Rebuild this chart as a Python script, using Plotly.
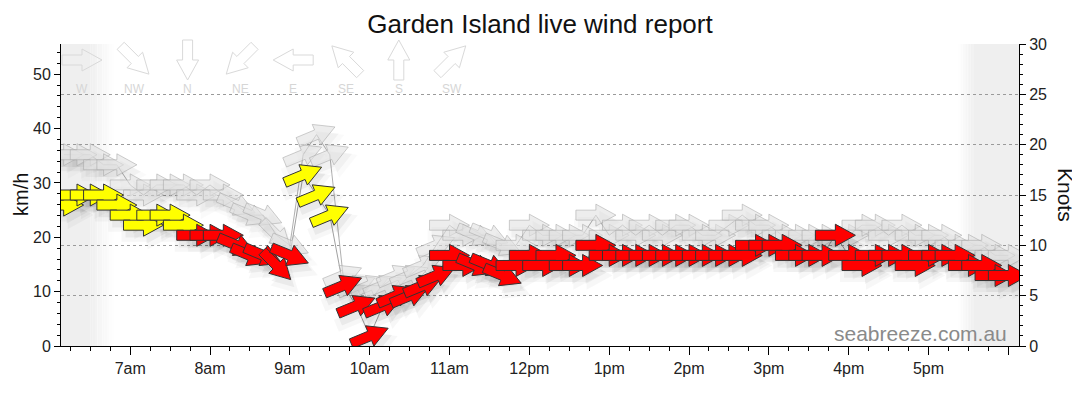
import math
import plotly.graph_objects as go

TITLE = "Garden Island live wind report"
DAY = "2024-01-01"

times = [
    "06:10", "06:20", "06:30", "06:40", "06:50",
    "07:00", "07:10", "07:20", "07:30", "07:40", "07:50",
    "08:00", "08:10", "08:20", "08:30", "08:40", "08:50",
    "09:00", "09:10", "09:20", "09:30", "09:40", "09:50",
    "10:00", "10:10", "10:20", "10:30", "10:40", "10:50",
    "11:00", "11:10", "11:20", "11:30", "11:40", "11:50",
    "12:00", "12:10", "12:20", "12:30", "12:40", "12:50",
    "13:00", "13:10", "13:20", "13:30", "13:40", "13:50",
    "14:00", "14:10", "14:20", "14:30", "14:40", "14:50",
    "15:00", "15:10", "15:20", "15:30", "15:40", "15:50",
    "16:00", "16:10", "16:20", "16:30", "16:40", "16:50",
    "17:00", "17:10", "17:20", "17:30", "17:40", "17:50",
    "18:00",
]

# wind speed (knots)
speed_kt = [
    14, 15, 15, 15, 14,
    13, 12, 13, 13, 12, 11,
    11, 11, 10, 9, 9, 8,
    9, 17, 15, 13, 6, 4,
    1, 4, 5, 5, 6, 7,
    9, 8, 8, 8, 7, 8,
    9, 8, 9, 8, 8, 10,
    9, 9, 9, 9, 9, 9,
    9, 9, 9, 9, 9, 10,
    10, 10, 9, 9, 9, 11,
    9, 8, 9, 9, 9, 8,
    9, 9, 9, 8, 8, 7,
    7,
]

# wind gust (knots)
gust_kt = [
    19, 19, 19, 18, 18,
    16, 15, 16, 16, 16, 15,
    16, 15, 14, 13, 13, 11,
    10, 19, 21, 19, 7, 6,
    6, 6, 7, 7, 8, 10,
    12, 11, 11, 11, 10, 10,
    12, 11, 11, 11, 11, 13,
    11, 12, 11, 12, 11, 12,
    12, 11, 11, 12, 13, 12,
    12, 11, 11, 11, 11, 11,
    11, 12, 12, 11, 12, 11,
    11, 11, 10, 10, 10, 9,
    9,
]

# wind direction (compass, "from")
direction = [
    "W", "W", "W", "W", "W",
    "W", "W", "W", "W", "W", "W",
    "W", "W", "WNW", "WNW", "WNW", "NW",
    "WNW", "WSW", "WSW", "WSW", "WSW", "WSW",
    "WSW", "WSW", "WSW", "WSW", "WSW", "WSW",
    "W", "W", "WNW", "WNW", "WNW", "W",
    "W", "W", "W", "W", "W", "W",
    "W", "W", "W", "W", "W", "W",
    "W", "W", "W", "W", "W", "W",
    "W", "W", "W", "W", "W", "W",
    "W", "W", "W", "W", "W", "W",
    "W", "W", "W", "W", "W", "W",
    "W",
]

hour_ticks = ["07:00", "08:00", "09:00", "10:00", "11:00", "12:00",
              "13:00", "14:00", "15:00", "16:00", "17:00", "18:00"]
hour_labels = ["7am", "8am", "9am", "10am", "11am", "12pm",
               "1pm", "2pm", "3pm", "4pm", "5pm", ""]
compass_legend = ["W", "NW", "N", "NE", "E", "SE", "S", "SW"]
axis_start, axis_end = "06:08", "18:08"
sunrise_solid, sunrise_fade = "06:30", "06:48"
sunset_fade, sunset_solid = "17:22", "17:34"

KMH_PER_KT = 1.852
COMPASS_DEG = {"N": 0, "NNE": 22.5, "NE": 45, "ENE": 67.5, "E": 90, "ESE": 112.5,
               "SE": 135, "SSE": 157.5, "S": 180, "SSW": 202.5, "SW": 225,
               "WSW": 247.5, "W": 270, "WNW": 292.5, "NW": 315, "NNW": 337.5}

ARROW = [(-20, -5), (0, -5), (0, -11), (20, 0), (0, 11), (0, 5), (-20, 5)]

# page offset of the plot div (default body margin of the page)
PAGE_OFF = 8
# plot area as seen on screen
PLOT_L, PLOT_R, PLOT_T, PLOT_B = 61, 1019, 44, 346
PLOT_W, PLOT_H = PLOT_R - PLOT_L, PLOT_B - PLOT_T
FIG_W, FIG_H = 1080, 414


def screen_angle(d):
    to_bearing = (COMPASS_DEG[d] + 180) % 360
    return 90 - to_bearing


def arrow_path(theta, scale=1.0, dx=0.0, dy=0.0):
    t = math.radians(theta)
    c, s = math.cos(t), math.sin(t)
    pts = [(x * scale * c - y * scale * s + dx, x * scale * s + y * scale * c + dy) for x, y in ARROW]
    return "M" + "L".join(f"{x:.2f},{y:.2f}" for x, y in pts) + "Z"


def ts(hm):
    return f"{DAY} {hm}"


def px_x(px):
    return (px - PLOT_L) / PLOT_W


def px_y(py):
    return 1 - (py - PLOT_T) / PLOT_H


xs = [ts(t) for t in times]
shapes = []


def hm_to_min(hm):
    h, m = hm.split(":")
    return int(h) * 60 + int(m)


def min_to_ts(mn):
    sec = int(round(mn * 60))
    return f"{DAY} {sec // 3600:02d}:{(sec // 60) % 60:02d}:{sec % 60:02d}"


# night shading with a stepped gradient
SHADE = 239
shapes.append(dict(type="rect", xref="x", yref="paper", x0=ts(axis_start), x1=ts(sunrise_solid),
                   y0=0, y1=1, fillcolor=f"rgb({SHADE},{SHADE},{SHADE})", line=dict(width=0), layer="between"))
shapes.append(dict(type="rect", xref="x", yref="paper", x0=ts(sunset_solid), x1=ts(axis_end),
                   y0=0, y1=1, fillcolor=f"rgb({SHADE},{SHADE},{SHADE})", line=dict(width=0), layer="between"))
NSTEP = 10
a0, a1 = hm_to_min(sunrise_solid), hm_to_min(sunrise_fade)
b0, b1 = hm_to_min(sunset_fade), hm_to_min(sunset_solid)
for i in range(NSTEP):
    f = (i + 0.5) / NSTEP
    g = int(round(SHADE + (255 - SHADE) * f))
    shapes.append(dict(type="rect", xref="x", yref="paper",
                       x0=min_to_ts(a0 + (a1 - a0) * i / NSTEP), x1=min_to_ts(a0 + (a1 - a0) * (i + 1) / NSTEP),
                       y0=0, y1=1, fillcolor=f"rgb({g},{g},{g})", line=dict(width=0), layer="between"))
    g2 = int(round(255 - (255 - SHADE) * f))
    shapes.append(dict(type="rect", xref="x", yref="paper",
                       x0=min_to_ts(b0 + (b1 - b0) * i / NSTEP), x1=min_to_ts(b0 + (b1 - b0) * (i + 1) / NSTEP),
                       y0=0, y1=1, fillcolor=f"rgb({g2},{g2},{g2})", line=dict(width=0), layer="between"))


def add_arrows(values, fill_fn, line_color, shadow_alpha):
    for x, v, d in zip(xs, values, direction):
        th = screen_angle(d)
        for sc, dx, dy, al in ((1.3, 4, -10, shadow_alpha * 0.6), (1.05, 3, -7, shadow_alpha)):
            shapes.append(dict(type="path", xref="x", yref="y2", xsizemode="pixel", ysizemode="pixel",
                               xanchor=x, yanchor=v, path=arrow_path(th, sc, dx, dy),
                               fillcolor=f"rgba(0,0,0,{al})", line=dict(width=0), layer="above"))
    for x, v, d in zip(xs, values, direction):
        th = screen_angle(d)
        shapes.append(dict(type="path", xref="x", yref="y2", xsizemode="pixel", ysizemode="pixel",
                           xanchor=x, yanchor=v, path=arrow_path(th),
                           fillcolor=fill_fn(v), line=dict(color=line_color, width=1), layer="above"))


add_arrows(gust_kt, lambda v: "rgba(225,225,225,0.6)", "rgba(165,165,165,0.55)", 0.035)
add_arrows(speed_kt, lambda v: "#ffff00" if v >= 12 else "#ff0000", "#333333", 0.05)

# direction legend at the top of the plot
for i, lab in enumerate(compass_legend):
    px = 82 + 52.8 * i
    shapes.append(dict(type="path", xref="paper", yref="paper", xsizemode="pixel", ysizemode="pixel",
                       xanchor=px_x(px), yanchor=px_y(60), path=arrow_path(screen_angle(lab)),
                       fillcolor="rgba(255,255,255,0)", line=dict(color="#d9d9d9", width=1), layer="above"))

annotations = []
for i, lab in enumerate(compass_legend):
    px = 82 + 52.8 * i
    annotations.append(dict(text=lab, xref="paper", yref="paper", x=px_x(px), y=px_y(89),
                            showarrow=False, xanchor="center", yanchor="middle",
                            font=dict(size=12, color="#d6d6d6")))
annotations.append(dict(text="seabreeze.com.au", xref="paper", yref="paper", x=px_x(1009), y=px_y(333),
                        showarrow=False, xanchor="right", yanchor="middle",
                        font=dict(size=21, color="#8a8a8a")))
annotations.append(dict(text="km/h", xref="paper", yref="paper", x=px_x(21), y=0.5,
                        showarrow=False, textangle=-90, xanchor="center", yanchor="middle",
                        font=dict(size=20, color="#111")))
annotations.append(dict(text="Knots", xref="paper", yref="paper", x=px_x(1066), y=0.5,
                        showarrow=False, textangle=90, xanchor="center", yanchor="middle",
                        font=dict(size=21, color="#111")))

fig = go.Figure()
fig.add_trace(go.Scatter(x=xs, y=[v * KMH_PER_KT for v in speed_kt], yaxis="y", mode="lines",
                         line=dict(color="rgba(0,0,0,0)", width=0), hoverinfo="skip"))
fig.add_trace(go.Scatter(x=xs, y=gust_kt, yaxis="y2", mode="lines",
                         line=dict(color="#b0b0b0", width=1), hoverinfo="skip"))
fig.add_trace(go.Scatter(x=xs, y=speed_kt, yaxis="y2", mode="lines",
                         line=dict(color="#a0a0a0", width=1), hoverinfo="skip"))

tick_font = dict(size=16, color="#222", family="Liberation Sans, Arial, sans-serif")
fig.update_layout(
    width=FIG_W, height=FIG_H,
    margin=dict(l=PLOT_L - PAGE_OFF, r=FIG_W - PLOT_R + PAGE_OFF, t=PLOT_T - PAGE_OFF,
                b=FIG_H - PLOT_B + PAGE_OFF, pad=0),
    paper_bgcolor="white", plot_bgcolor="white", showlegend=False,
    font=dict(family="Liberation Sans, Arial, sans-serif", size=16, color="#222"),
    title=dict(text=TITLE, x=0.5, xanchor="center", xref="paper", y=1 - (24 - PAGE_OFF) / FIG_H,
               yanchor="middle", yref="container", font=dict(size=26, color="#111")),
    xaxis=dict(type="date", range=[ts(axis_start), ts(axis_end)],
               tickvals=[ts(h) for h in hour_ticks], ticktext=hour_labels,
               ticks="outside", ticklen=8, tickcolor="black", tickwidth=1,
               showline=True, linecolor="black", linewidth=1, showgrid=False, zeroline=False,
               tickfont=tick_font,
               minor=dict(dtick=15 * 60 * 1000, tick0=ts("06:00"), ticks="outside", ticklen=4,
                          tickcolor="black", showgrid=False)),
    yaxis=dict(range=[0, 30 * KMH_PER_KT], tickvals=[0, 10, 20, 30, 40, 50],
               ticks="outside", ticklen=6, tickcolor="black", showline=True, linecolor="black",
               showgrid=False, zeroline=False, tickfont=tick_font,
               minor=dict(dtick=2, tick0=0, ticks="outside", ticklen=3, tickcolor="black", showgrid=False)),
    yaxis2=dict(overlaying="y", side="right", range=[0, 30], tick0=0, dtick=5,
                ticks="outside", ticklen=6, tickcolor="black", showline=True, linecolor="black",
                showgrid=True, griddash="dot", gridcolor="#9a9a9a", gridwidth=1, zeroline=False,
                tickfont=tick_font,
                minor=dict(dtick=1, tick0=0, ticks="outside", ticklen=3, tickcolor="black", showgrid=False)),
    shapes=shapes,
    annotations=annotations,
)

fig.write_html("out.html")
